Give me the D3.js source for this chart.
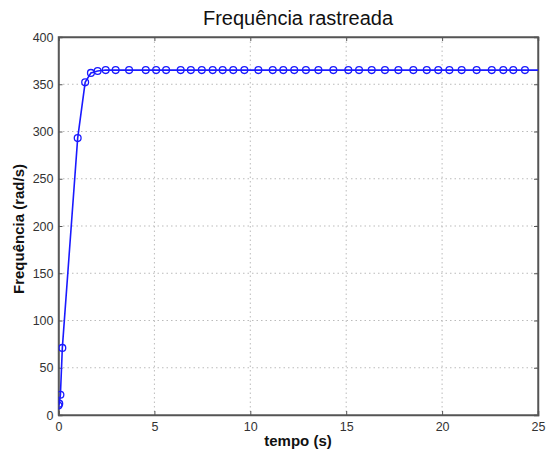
<!DOCTYPE html>
<html><head><meta charset="utf-8">
<script src="https://cdn.jsdelivr.net/npm/d3@7"></script>
<style>body{margin:0;background:#fff;}svg{display:block;font-family:"Liberation Sans",Arial,sans-serif;}</style>
</head><body>
<svg id="c" width="547" height="454"></svg>
<script>
const title = "Frequência rastreada";
const xLabel = "tempo (s)";
const yLabel = "Frequência (rad/s)";
const xTicks = [0, 5, 10, 15, 20, 25];
const yTicks = [0, 50, 100, 150, 200, 250, 300, 350, 400];
const times = [0, 0.04, 0.1, 0.2, 1.0, 1.39, 1.69, 2.04, 2.46, 2.98, 3.68, 4.55, 5.09, 5.61, 6.37, 6.9,
  7.47, 8.04, 8.56, 9.11, 9.69, 10.42, 11.17, 11.72, 12.29, 12.9, 13.55, 14.33, 15.11, 15.67, 16.33,
  17.02, 17.72, 18.5, 19.2, 19.8, 20.38, 21.02, 21.8, 22.59, 23.19, 23.71, 24.32, 25.3];
const freq = [10, 12, 21.5, 71, 293, 352, 362, 364, 365, 365, 365, 365, 365, 365, 365, 365,
  365, 365, 365, 365, 365, 365, 365, 365, 365, 365, 365, 365, 365, 365, 365,
  365, 365, 365, 365, 365, 365, 365, 365, 365, 365, 365, 365, 365];

const svg = d3.select("#c");
const L = 58.5, R = 538, T = 37, B = 415;
const x = d3.scaleLinear().domain([0, 25]).range([L, R]);
const y = d3.scaleLinear().domain([0, 400]).range([B, T]);

svg.append("defs").append("clipPath").attr("id","clip").append("rect")
  .attr("x", L).attr("y", T).attr("width", R - L).attr("height", B - T);

// grid
const g = svg.append("g");
g.selectAll(".gx").data(xTicks.slice(1, -1)).enter().append("line")
  .attr("x1", d => x(d)).attr("x2", d => x(d)).attr("y1", T).attr("y2", B)
  .attr("stroke", "#bbb").attr("stroke-width", 1).attr("stroke-dasharray", "1.5,3");
g.selectAll(".gy").data(yTicks.slice(1, -1)).enter().append("line")
  .attr("x1", L).attr("x2", R).attr("y1", d => y(d)).attr("y2", d => y(d))
  .attr("stroke", "#bbb").attr("stroke-width", 1).attr("stroke-dasharray", "1.5,3");

// box
svg.append("rect").attr("x", L).attr("y", T).attr("width", R - L).attr("height", B - T)
  .attr("fill", "none").attr("stroke", "#666").attr("stroke-width", 1.5);

// axes
const xa = svg.append("g").attr("transform", `translate(0,${B})`)
  .call(d3.axisBottom(x).tickValues(xTicks).tickSize(-4).tickPadding(7));
const xa2 = svg.append("g").attr("transform", `translate(0,${T})`)
  .call(d3.axisTop(x).tickValues(xTicks).tickSize(-4).tickFormat(""));
const ya = svg.append("g").attr("transform", `translate(${L},0)`)
  .call(d3.axisLeft(y).tickValues(yTicks).tickSize(-4).tickPadding(5));
const ya2 = svg.append("g").attr("transform", `translate(${R},0)`)
  .call(d3.axisRight(y).tickValues(yTicks).tickSize(-4).tickFormat(""));
[xa, xa2, ya, ya2].forEach(a => {
  a.select(".domain").attr("stroke", "#555").attr("stroke-width", 1.5);
  a.selectAll(".tick line").attr("stroke", "#555");
  a.selectAll("text").attr("font-size", 12.5).attr("fill", "#333")
    .attr("font-family", '"Liberation Sans",Arial,sans-serif');
});

// line + markers
const pts = times.map((t, i) => [t, freq[i]]);
const plot = svg.append("g").attr("clip-path", "url(#clip)");
plot.append("path").datum(pts)
  .attr("d", d3.line().x(d => x(d[0])).y(d => y(d[1])))
  .attr("fill", "none").attr("stroke", "#1a1aff").attr("stroke-width", 1.6);
plot.selectAll("circle").data(pts).enter().append("circle")
  .attr("cx", d => x(d[0])).attr("cy", d => y(d[1])).attr("r", 3.4)
  .attr("fill", "none").attr("stroke", "#1a1aff").attr("stroke-width", 1.3);

// labels
svg.append("text").attr("x", 298).attr("y", 25).attr("text-anchor", "middle")
  .attr("font-size", 20).attr("fill", "#111").text(title);
svg.append("text").attr("x", 298).attr("y", 446).attr("text-anchor", "middle")
  .attr("font-size", 15).attr("font-weight", "bold").attr("fill", "#111").text(xLabel);
svg.append("text").attr("transform", `translate(24,229) rotate(-90)`)
  .attr("text-anchor", "middle").attr("font-size", 15).attr("font-weight", "bold")
  .attr("fill", "#111").text(yLabel);
</script>
</body></html>
